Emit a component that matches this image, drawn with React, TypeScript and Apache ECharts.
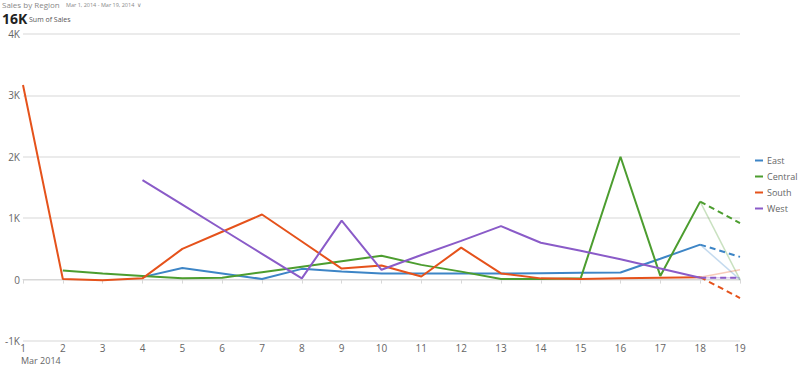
import React, { useEffect, useRef } from "react";
import * as echarts from "echarts";

const days = ["1","2","3","4","5","6","7","8","9","10","11","12","13","14","15","16","17","18","19"];
const east = [null, null, null, 40, 190, 100, 10, 175, 130, 100, 100, 100, 100, 105, 110, 115, 340, 570, null];
const central = [null, 150, 100, 60, 20, 30, 120, 210, 300, 390, 240, 130, 10, 10, 20, 2000, 60, 1270, null];
const south = [3170, 10, -10, 20, 500, 780, 1060, 620, 180, 230, 50, 520, 100, 20, 10, 20, 30, 40, null];
const west = [null, null, null, 1620, 1220, 820, 420, 20, 960, 160, 400, 630, 870, 600, 470, 330, 180, 30, null];
// projected value for day 19 (dashed) and partial actual (faint)
const eastProj = 370, centralProj = 920, southProj = -300, westProj = 30;
const eastPartial = 0, centralPartial = 0, southPartial = 160, westPartial = 30;

const colors = { East: "#3d85c6", Central: "#4c9d2f", South: "#e5521b", West: "#8a5bc8" };

function tail(arr: (number | null)[], v: number) {
  const out: (number | null)[] = days.map(() => null);
  out[17] = arr[17];
  out[18] = v;
  return out;
}

export default function App() {
  const ref = useRef<HTMLDivElement>(null);
  useEffect(() => {
    const chart = echarts.init(ref.current!, undefined, { renderer: "svg" });
    const font = "Open Sans";
    const main = (name: string, data: (number | null)[], color: string) => ({
      name, type: "line", data, symbol: "none", connectNulls: false,
      lineStyle: { color, width: 2 }, itemStyle: { color }, z: 3,
    });
    const dashed = (name: string, data: (number | null)[], color: string) => ({
      name: name + " projected", type: "line", data, symbol: "none",
      lineStyle: { color, width: 2, type: [6, 4] }, itemStyle: { color }, z: 3,
    });
    const faint = (name: string, data: (number | null)[], color: string) => ({
      name: name + " partial", type: "line", data, symbol: "none",
      lineStyle: { color, width: 1.5, opacity: 0.3 }, itemStyle: { color }, z: 2,
    });
    chart.setOption({
      animation: false,
      textStyle: { fontFamily: font },
      grid: { left: 23, right: 60, top: 34, bottom: 25, containLabel: false },
      legend: {
        data: ["East", "Central", "South", "West"],
        orient: "vertical", left: 755, top: 156, itemWidth: 8, itemHeight: 2, itemGap: 7,
        icon: "rect", padding: 0,
        textStyle: { fontFamily: font, fontSize: 9, color: "#666", padding: [0, 0, 0, -1] },
      },
      xAxis: {
        type: "category", data: days, boundaryGap: false,
        axisLine: { lineStyle: { color: "#d8d8d8" } },
        axisTick: { show: true, length: 4, lineStyle: { color: "#d8d8d8" }, alignWithLabel: true },
        axisLabel: { color: "#666", fontSize: 10, margin: 2, lineHeight: 10, fontFamily: font },
      },
      yAxis: {
        type: "value", min: -1000, max: 4000, interval: 1000,
        axisLabel: {
          color: "#666", fontSize: 10, margin: 3, fontFamily: font,
          formatter: (v: number) => (v === 0 ? "0" : v / 1000 + "K"),
        },
        splitLine: { lineStyle: { color: "#e4e4e4", width: 1.5 } },
        axisLine: { show: false }, axisTick: { show: false },
      },
      series: [
        main("East", east, colors.East),
        main("Central", central, colors.Central),
        main("South", south, colors.South),
        main("West", west, colors.West),
        dashed("East", tail(east, eastProj), colors.East),
        dashed("Central", tail(central, centralProj), colors.Central),
        dashed("South", tail(south, southProj), colors.South),
        dashed("West", tail(west, westProj), colors.West),
        faint("East", tail(east, eastPartial), colors.East),
        faint("Central", tail(central, centralPartial), colors.Central),
        faint("South", tail(south, southPartial), colors.South),
        faint("West", tail(west, westPartial), colors.West),
      ],
      graphic: [
        { type: "text", left: 2, top: 0, style: { text: "Sales by Region", fontFamily: font, fontSize: 8, fill: "#888" } },
        { type: "text", left: 66, top: 2, style: { text: "Mar 1, 2014 - Mar 19, 2014  \u2228", fontFamily: font, fontSize: 5.5, fill: "#888" } },
        { type: "text", left: 2, top: 11, style: { text: "16K", fontFamily: font, fontSize: 14, fontWeight: "bold", fill: "#222" } },
        { type: "text", left: 29, top: 16, style: { text: "Sum of Sales", fontFamily: font, fontSize: 7, fill: "#555" } },
        { type: "text", left: 21, top: 355, style: { text: "Mar 2014", fontFamily: font, fontSize: 9, lineHeight: 10, fill: "#666" } },
      ],
    });
    return () => chart.dispose();
  }, []);
  return <div ref={ref} style={{ width: 800, height: 366, position: "absolute", left: 0, top: 0 }} />;
}
